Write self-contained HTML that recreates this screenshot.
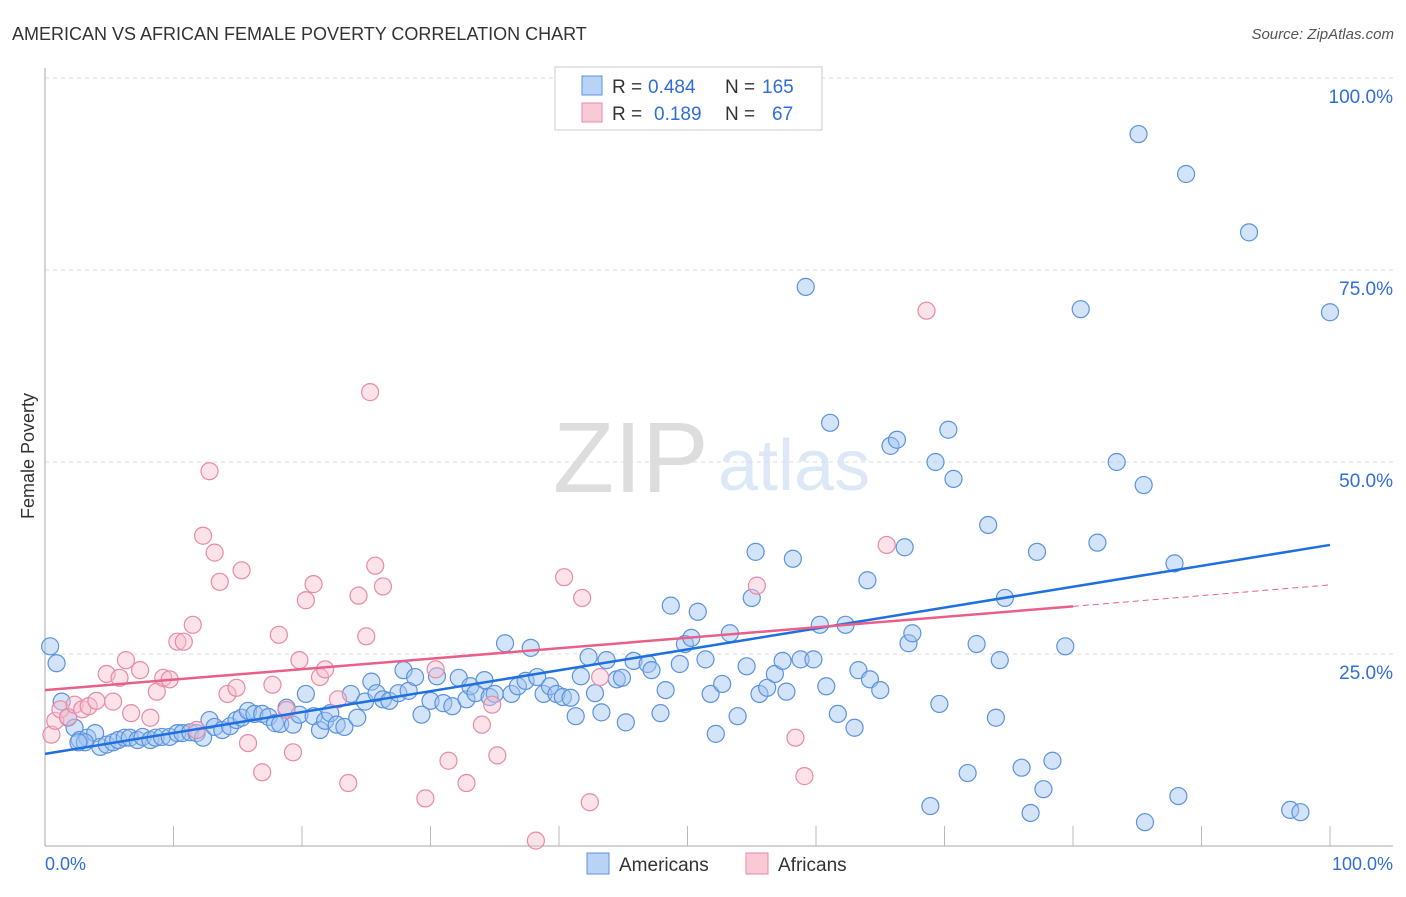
<!DOCTYPE html>
<html><head><meta charset="utf-8"><style>
body{margin:0;background:#fff;font-family:"Liberation Sans",sans-serif}
svg text{font-family:"Liberation Sans",sans-serif}
</style></head><body>
<svg width="1406" height="892">
<text x="12" y="40" font-size="18" fill="#333">AMERICAN VS AFRICAN FEMALE POVERTY CORRELATION CHART</text>
<text x="1394" y="39" font-size="15" fill="#555" font-style="italic" text-anchor="end">Source: ZipAtlas.com</text>
<text x="34" y="456" font-size="18" fill="#333" transform="rotate(-90 34 456)" text-anchor="middle">Female Poverty</text>
<text x="553" y="492" font-size="100" fill="#ddd" font-family="Liberation Serif">ZIP</text>
<text x="718" y="490" font-size="72" fill="#dde8f6">atlas</text>
<g id="grid"></g><g id="axes"></g><g id="pts"></g><g id="lines"></g>
<g>
<rect x="555" y="67" width="267" height="63" fill="#fff" stroke="#ccc"/>
<rect x="582" y="76" width="20" height="19" fill="#b8d3f5" stroke="#5b93e0"/>
<rect x="582" y="103" width="20" height="19" fill="#f9c9d6" stroke="#e88aa6"/>
<text x="612" y="93" font-size="19" fill="#333">R =</text>
<text x="648" y="93" font-size="19" fill="#2f6fd6">0.484</text>
<text x="725" y="93" font-size="19" fill="#333">N =</text>
<text x="762" y="93" font-size="19" fill="#2f6fd6">165</text>
<text x="612" y="120" font-size="19" fill="#333">R =</text>
<text x="654" y="120" font-size="19" fill="#2f6fd6">0.189</text>
<text x="725" y="120" font-size="19" fill="#333">N =</text>
<text x="772" y="120" font-size="19" fill="#2f6fd6">67</text>
</g>
<g>
<rect x="587" y="853" width="22" height="21" fill="#b8d3f5" stroke="#5b93e0"/>
<text x="619" y="871" font-size="19" fill="#333">Americans</text>
<rect x="746" y="853" width="22" height="21" fill="#f9c9d6" stroke="#e88aa6"/>
<text x="778" y="871" font-size="19" fill="#333">Africans</text>
</g>
<text x="45" y="870" font-size="18" fill="#2f6fd6">0.0%</text>
<text x="1393" y="870" font-size="18" fill="#2f6fd6" text-anchor="end">100.0%</text>
</svg>
<script>
const yTicks=[25,50,75,100];
const yTickLabels=["25.0%","50.0%","75.0%","100.0%"];
const amX=[0.4,0.9,1.3,1.8,2.3,2.7,3.3,3.9,4.3,4.8,5.3,5.7,6.2,6.6,7.2,7.6,8.2,8.6,9.1,9.7,
10.3,10.7,11.3,11.8,12.3,12.8,13.2,13.8,14.4,14.9,15.3,15.8,16.3,16.9,17.4,17.9,18.3,18.8,19.3,19.8,
20.3,20.9,21.4,21.8,22.2,22.7,23.3,23.8,24.3,24.9,25.4,25.8,26.3,26.8,27.5,27.9,28.3,28.8,29.3,30.0,
30.5,31.0,31.7,32.2,32.8,33.1,33.5,34.2,34.6,35.0,35.8,36.3,36.8,37.4,37.8,38.3,38.8,39.3,39.8,40.3,
40.9,41.3,41.7,42.3,42.8,43.3,43.7,44.5,44.9,45.2,45.8,46.9,47.2,47.9,48.3,48.7,49.4,49.8,50.3,50.8,
51.4,51.8,52.2,52.7,53.3,53.9,54.6,55.0,55.3,55.6,56.2,56.8,57.4,57.7,58.2,58.8,59.2,59.8,60.3,60.8,
61.1,61.7,62.3,63.0,63.3,64.0,64.2,65.0,65.8,66.3,66.9,67.2,67.5,68.9,69.3,69.6,70.3,70.7,71.8,72.5,
73.4,74.0,74.3,74.7,76.0,76.7,77.2,77.7,78.4,79.4,80.6,81.9,83.4,85.1,85.5,85.6,87.9,88.2,88.8,93.7,
96.9,97.7,100.0,3.1,2.6];
const amY=[26.0,23.8,18.8,16.7,15.4,13.8,14.1,14.7,12.9,13.2,13.5,13.8,14.1,14.1,13.8,14.2,13.8,14.1,14.2,14.2,
14.7,14.7,14.8,14.7,14.1,16.4,15.5,15.1,15.6,16.4,16.7,17.6,17.2,17.2,16.8,16.0,15.9,18.0,15.8,17.1,
19.8,16.9,15.1,16.3,17.3,15.8,15.5,19.8,16.7,18.8,21.4,19.9,19.1,18.9,19.9,22.9,20.2,22.0,17.1,18.9,
22.1,18.6,18.2,21.9,19.1,20.8,19.9,21.6,19.4,19.8,26.4,19.8,20.8,21.5,25.8,22.0,19.8,20.8,19.8,19.4,
19.3,16.9,22.1,24.6,19.9,17.4,24.2,21.7,21.9,16.1,24.1,23.7,22.9,17.3,20.3,31.3,23.7,26.3,27.1,30.5,
24.3,19.8,14.6,21.1,27.7,16.9,23.4,32.3,38.3,19.8,20.6,22.4,24.1,20.1,37.4,24.3,72.8,24.3,28.8,20.8,
55.1,17.2,28.8,15.4,22.9,34.6,21.7,20.3,52.1,52.9,38.9,26.4,27.7,5.2,50.0,18.5,54.2,47.8,9.5,26.3,
41.8,16.7,24.2,32.3,10.2,4.3,38.3,7.4,11.1,26.0,69.9,39.5,50.0,92.7,47.0,3.1,36.8,6.5,87.5,79.9,
4.7,4.4,69.5,13.5,13.5];
const afX=[0.5,0.8,1.2,1.8,2.3,2.9,3.4,4.0,4.8,5.3,5.8,6.3,6.7,7.4,8.2,8.7,9.2,9.7,10.3,10.8,11.5,11.8,12.3,12.8,13.2,13.6,14.2,14.9,15.3,15.8,16.9,17.7,18.2,18.8,19.3,19.8,20.3,20.9,21.4,21.8,22.8,23.6,24.4,25.0,25.3,25.7,26.3,29.6,30.4,31.4,32.8,34.0,34.8,35.2,38.2,40.4,41.8,42.4,43.2,55.4,58.4,59.1,65.5,68.6];
const afY=[14.5,16.3,17.8,16.8,18.4,17.8,18.2,18.9,22.4,18.8,21.9,24.2,17.3,22.9,16.7,20.1,21.9,21.7,26.6,26.6,28.8,15.1,40.4,48.8,38.2,34.4,19.8,20.6,35.9,13.4,9.6,21.0,27.5,17.7,12.2,24.2,32.0,34.1,22.0,23.0,19.1,8.2,32.6,27.3,59.1,36.5,33.8,6.2,23.0,11.1,8.2,15.8,18.4,11.8,0.7,35.0,32.3,5.7,22.0,33.9,14.1,9.1,39.2,69.7];
const X0=45,X1=1330,Y0=846,Y1=78;
const sx=v=>X0+(X1-X0)*v/100, sy=v=>Y0-(Y0-Y1)*v/100;
const NS="http://www.w3.org/2000/svg";
function mk(t,a,p){const e=document.createElementNS(NS,t);for(const k in a)e.setAttribute(k,a[k]);document.getElementById(p).appendChild(e);return e;}
yTicks.forEach((t,i)=>{
 const g=mk("line",{x1:45,x2:1393,y1:sy(t),y2:sy(t),stroke:"#ddd","stroke-dasharray":"4,4"},"grid");
 
 
 const l=mk("text",{x:1393,y:sy(t)+25,"font-size":19,fill:"#2f6fd6","text-anchor":"end"},"grid");
 l.textContent=yTickLabels[i];
 
 
});
const ax=mk("line",{x1:45,x2:45,y1:68,y2:846,stroke:"#aaa"},"axes");


const bx=mk("line",{x1:45,x2:1393,y1:846,y2:846,stroke:"#aaa"},"axes");


for(let i=1;i<=10;i++){const t=mk("line",{x1:sx(i*10),x2:sx(i*10),y1:826,y2:846,stroke:"#bbb"},"axes");
 
 }
amX.forEach((x,i)=>{const c=mk("circle",{cx:sx(x),cy:sy(amY[i]),r:8.5,fill:"rgba(160,196,240,0.45)",stroke:"#5b93e0","stroke-width":1.2},"pts");
 
 });
afX.forEach((x,i)=>{const c=mk("circle",{cx:sx(x),cy:sy(afY[i]),r:8.5,fill:"rgba(248,190,206,0.45)",stroke:"#e88aa6","stroke-width":1.2},"pts");
 
 });
const bl=mk("line",{x1:sx(0),y1:sy(12.0),x2:sx(100),y2:sy(39.2),stroke:"#1f6fde","stroke-width":2.5},"lines");


const pl=mk("line",{x1:sx(0),y1:sy(20.3),x2:sx(80),y2:sy(31.2),stroke:"#e8608a","stroke-width":2.5},"lines");


const pd=mk("line",{x1:sx(80),y1:sy(31.2),x2:sx(100),y2:sy(34.0),stroke:"#e8608a","stroke-width":1,"stroke-dasharray":"6,4"},"lines");


</script>
</body></html>
